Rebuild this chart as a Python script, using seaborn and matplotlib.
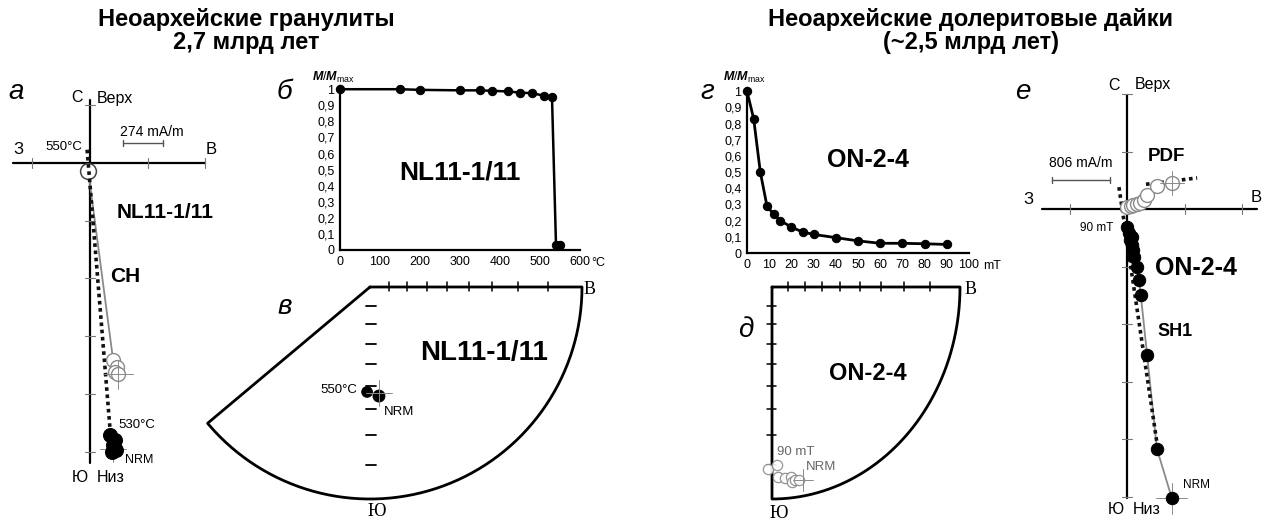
import numpy as np
import matplotlib
matplotlib.use("Agg")
import matplotlib.pyplot as plt
import seaborn as sns

W, H = 1272, 526

# ---------------- data ----------------
# а: Zijderveld diagram NL11-1/11 (units = one tick step)
a_hor_x = [0.35, 0.43, 0.40, 0.45, 0.38]
a_hor_y = [-4.71, -4.80, -4.89, -4.97, -5.01]
a_ver_x = [-0.03, 0.40, 0.47, 0.43, 0.49]
a_ver_y = [-0.14, -3.41, -3.54, -3.62, -3.66]
a_fit_x = [-0.05, 0.38]
a_fit_y = [0.23, -5.01]

# б: thermal demagnetization NL11-1/11
b_temp = [0, 150, 200, 300, 350, 380, 420, 450, 480, 510, 530, 540, 550]
b_mag = [1.0, 1.0, 0.996, 0.993, 0.993, 0.99, 0.986, 0.979, 0.975, 0.96, 0.95, 0.03, 0.03]
b_ticks = [0, 100, 200, 300, 400, 500, 600]

# в: stereonet NL11-1/11 (declination, inclination)
v_dec = [181.6, 175.3]
v_inc = [37.3, 35.4]

# г: AF demagnetization ON-2-4
g_field = [0, 3, 6, 9, 12, 15, 20, 25, 30, 40, 50, 60, 70, 80, 90]
g_mag = [1.0, 0.83, 0.50, 0.29, 0.24, 0.20, 0.16, 0.13, 0.115, 0.095, 0.075, 0.06, 0.06, 0.057, 0.053]
g_ticks = [0, 10, 20, 30, 40, 50, 60, 70, 80, 90, 100]

y_ticks = [0, 0.1, 0.2, 0.3, 0.4, 0.5, 0.6, 0.7, 0.8, 0.9, 1.0]
y_labels = ["0", "0,1", "0,2", "0,3", "0,4", "0,5", "0,6", "0,7", "0,8", "0,9", "1"]

# д: stereonet ON-2-4 (upper hemisphere)
d_dec = [181.4, 178.2, 178.0, 175.6, 173.6, 173.4, 172.4, 171.0]
d_inc = [-8.7, -10.0, -6.2, -5.8, -5.9, -4.4, -4.9, -4.7]

# е: Zijderveld diagram ON-2-4
e_hor_x = [0.0, 0.03, 0.09, 0.05, 0.09, 0.10, 0.12, 0.17, 0.21, 0.24, 0.35, 0.52, 0.78]
e_hor_y = [-0.31, -0.42, -0.49, -0.54, -0.63, -0.71, -0.83, -1.01, -1.23, -1.50, -2.54, -4.17, -5.03]
e_ver_x = [0.0, 0.07, 0.10, 0.17, 0.23, 0.30, 0.35, 0.52, 0.78]
e_ver_y = [0.03, 0.05, 0.07, 0.09, 0.10, 0.16, 0.24, 0.40, 0.45]
e_fit_x = [-0.14, 0.56]
e_fit_y = [0.38, -4.33]
e_pdf_x = [0.33, 1.22]
e_pdf_y = [0.43, 0.54]

stereo_incs = [80, 70, 60, 50, 40, 30, 20, 10]

title_left = 'Неоархейские гранулиты\n2,7 млрд лет'
title_right = 'Неоархейские долеритовые дайки\n(~2,5 млрд лет)'

# ---------------- style ----------------
sns.set_theme(style="white")
plt.rcParams['font.family'] = ['Liberation Sans', 'DejaVu Sans']
plt.rcParams['text.color'] = 'black'
plt.rcParams['xtick.color'] = 'black'
plt.rcParams['ytick.color'] = 'black'
plt.rcParams['mathtext.fontset'] = 'custom'
plt.rcParams['mathtext.it'] = 'Liberation Sans:italic:bold'
plt.rcParams['mathtext.rm'] = 'Liberation Sans'

GRAY = '#8a8a8a'
fig = plt.figure(figsize=(W / 100, H / 100), dpi=100)


def px_axes(x0, y0, x1, y1):
    return fig.add_axes([x0 / W, 1 - y1 / H, (x1 - x0) / W, (y1 - y0) / H])


def unit_axes(box, origin, sx, sy):
    x0, y0, x1, y1 = box
    ox, oy = origin
    ax = px_axes(*box)
    ax.set_xlim((x0 - ox) / sx, (x1 - ox) / sx)
    ax.set_ylim((oy - y1) / sy, (oy - y0) / sy)
    ax.axis('off')
    return ax


def ftext(x, y, s, **kw):
    kw.setdefault('va', 'center')
    fig.text(x / W, 1 - y / H, s, **kw)


def zijderveld_axes(ax, xr, yr, xt, yt, unit):
    ax.plot(xr, [0, 0], color='black', lw=1.6, zorder=1)
    ax.plot([0, 0], yr, color='black', lw=1.6, zorder=1)
    tl = 5 / unit
    for t in xt:
        ax.plot([t, t], [-tl, tl], color='#777777', lw=0.8, zorder=1)
    for t in yt:
        ax.plot([-tl, tl], [t, t], color='#777777', lw=0.8, zorder=1)


def cross(ax, x, y, arm):
    ax.plot([x - arm, x + arm], [y, y], color=GRAY, lw=0.7, zorder=5)
    ax.plot([x, x], [y - arm, y + arm], color=GRAY, lw=0.7, zorder=5)


def wulff(dec, inc):
    dec = np.radians(np.asarray(dec, float))
    r = np.tan(np.radians(90 - np.abs(np.asarray(inc, float))) / 2)
    return r * np.sin(dec), r * np.cos(dec)


def decay_axes(ax, xmax, xt):
    sns.despine(ax=ax)
    for s in ['left', 'bottom']:
        ax.spines[s].set_linewidth(1.6)
        ax.spines[s].set_color('black')
    ax.set_xlim(0, xmax)
    ax.set_ylim(0, 1.02)
    ax.set_yticks(y_ticks)
    ax.set_yticklabels(y_labels)
    ax.set_xticks(xt)
    ax.set_xticklabels([str(t) for t in xt])
    ax.tick_params(axis='both', direction='out', length=3, width=1.1, colors='black',
                   labelsize=9, pad=1)
    ax.set_xlabel('')
    ax.set_ylabel('')
    ax.set_facecolor('none')


# ---------------- а ----------------
ua = 57.7
ax = unit_axes((0, 80, 250, 520), (90, 163), ua, ua)
zijderveld_axes(ax, [-1.33, 1.99], [1.09, -5.2], [-1, 1, 2], [1, -1, -2, -3, -4, -5], ua)
sns.lineplot(x=a_ver_x, y=a_ver_y, sort=False, estimator=None, color=GRAY, lw=1.3, ax=ax, zorder=2)
ax.plot(a_fit_x, a_fit_y, color='#111111', lw=2.6, linestyle=(0, (1, 1)), zorder=3)
sns.scatterplot(x=a_ver_x[:1], y=a_ver_y[:1], s=130, color='white', edgecolor='#444444', linewidth=1.1,
                ax=ax, zorder=2.5)
sns.scatterplot(x=a_ver_x[1:], y=a_ver_y[1:], s=100, color='white', edgecolor=GRAY, linewidth=1,
                ax=ax, zorder=4)
sns.scatterplot(x=a_hor_x, y=a_hor_y, s=100, color='black', edgecolor='black', ax=ax, zorder=6)
cross(ax, a_ver_x[-1], a_ver_y[-1], 0.25)
cross(ax, 0.40, -4.95, 0.23)
# scale bar
ax.plot([(123 - 90) / ua, (163 - 90) / ua], [(163 - 143) / ua] * 2, color='#555555', lw=1)
for xb in [123, 163]:
    ax.plot([(xb - 90) / ua] * 2, [(163 - 140) / ua, (163 - 146) / ua], color='#555555', lw=1)

ftext(8, 92, 'а', fontsize=20, style='italic')
ftext(77, 98, 'С', fontsize=11.5, ha='center')
ftext(97, 98, 'Верх', fontsize=11.5, ha='left')
ftext(18, 150, 'З', fontsize=12, ha='center')
ftext(211, 150, 'В', fontsize=12, ha='center')
ftext(82, 147, '550°C', fontsize=9.5, ha='right')
ftext(152, 132, '274 mA/m', fontsize=10, ha='center')
ftext(117, 213, 'NL11-1/11', fontsize=15, fontweight='bold', ha='left')
ftext(110, 277, 'CH', fontsize=15, fontweight='bold', ha='left')
ftext(118, 425, '530°C', fontsize=9.5, ha='left')
ftext(125, 460, 'NRM', fontsize=9, ha='left')
ftext(80, 478, 'Ю', fontsize=11.5, ha='center')
ftext(97, 478, 'Низ', fontsize=11.5, ha='left')

# ---------------- б ----------------
ax = px_axes(340, 86, 580, 250)
decay_axes(ax, 600, b_ticks)
sns.lineplot(x=b_temp, y=b_mag, color='black', lw=1.8, marker='o', markersize=6,
             markeredgecolor='black', estimator=None, ax=ax, clip_on=False)
ax.annotate('°C', (600, 0), xytext=(8, -5), textcoords='offset points', fontsize=9,
            ha='left', va='top', annotation_clip=False)
ftext(277, 92, 'б', fontsize=20, style='italic')
ftext(312, 77, r'$\it{M/M}_{\rm max}$', fontsize=9, ha='left')
ftext(460, 172, 'NL11-1/11', fontsize=19, fontweight='bold', ha='center')

# ---------------- в ----------------
R = 212
ax = unit_axes((195, 270, 620, 525), (370, 287), R, R)
th = np.radians(np.linspace(0, -140, 200))
ax.plot(np.r_[0, np.cos(th), 0], np.r_[0, np.sin(th), 0], color='black', lw=2)
rt = np.tan(np.radians(90 - np.array(stereo_incs)) / 2)
for r in rt:
    ax.plot([r, r], [-4 / R, 5 / R], color='black', lw=1.1)
    ax.plot([-4 / R, 6 / R], [-r, -r], color='black', lw=1.3)
vx, vy = wulff(v_dec, v_inc)
sns.scatterplot(x=vx, y=vy, s=[60, 75], color='black', edgecolor='black', ax=ax, zorder=4, legend=False)
cross(ax, vx[1], vy[1] + 3 / R, 13 / R)
ftext(277, 307, 'в', fontsize=20, style='italic')
ftext(357, 390, '550°C', fontsize=9.5, ha='right')
ftext(384, 412, 'NRM', fontsize=9.5, ha='left')
ftext(484, 353, 'NL11-1/11', fontsize=20, fontweight='bold', ha='center')
ftext(584, 290, 'В', fontsize=13, family='Liberation Serif', ha='left')
ftext(377, 511, 'Ю', fontsize=13, family='Liberation Serif', ha='center')

# ---------------- г ----------------
ax = px_axes(747, 88, 969, 253)
decay_axes(ax, 100, g_ticks)
sns.lineplot(x=g_field, y=g_mag, color='black', lw=2, marker='o', markersize=6,
             markeredgecolor='black', estimator=None, ax=ax, clip_on=False)
ax.annotate('mT', (100, 0), xytext=(10, -5), textcoords='offset points', fontsize=9,
            ha='left', va='top', annotation_clip=False)
ftext(700, 92, 'г', fontsize=20, style='italic')
ftext(723, 77, r'$\it{M/M}_{\rm max}$', fontsize=9, ha='left')
ftext(868, 160, 'ON-2-4', fontsize=18, fontweight='bold', ha='center')

# ---------------- д ----------------
Rx, Ry = 188, 212
ax = unit_axes((752, 270, 1000, 525), (772, 287), Rx, Ry)
th = np.radians(np.linspace(0, -90, 200))
ax.plot(np.r_[0, np.cos(th), 0], np.r_[0, np.sin(th), 0], color='black', lw=2)
for r in rt:
    ax.plot([r, r], [-4 / Ry, 5 / Ry], color='black', lw=1.1)
    ax.plot([-5 / Rx, 4 / Rx], [-r, -r], color='black', lw=1.1)
dx, dy = wulff(d_dec, d_inc)
sns.scatterplot(x=dx, y=dy, s=55, color='white', edgecolor=GRAY, linewidth=0.9, ax=ax, zorder=4, alpha=0.9)
cross(ax, dx[-1] + 4 / Rx, dy[-1], 10 / Rx)
ftext(738, 330, 'д', fontsize=20, style='italic')
ftext(868, 373, 'ON-2-4', fontsize=17, fontweight='bold', ha='center')
ftext(777, 452, '90 mT', fontsize=9.5, ha='left', color='#666666')
ftext(806, 467, 'NRM', fontsize=9.5, ha='left', color='#666666')
ftext(779, 513, 'Ю', fontsize=13, family='Liberation Serif', ha='center')
ftext(965, 290, 'В', fontsize=13, family='Liberation Serif', ha='left')

# ---------------- е ----------------
ue = 57.5
ax = unit_axes((1000, 80, 1272, 526), (1127, 209), ue, ue)
zijderveld_axes(ax, [-1.48, 2.26], [1.98, -5.03], [-1, 1, 2], [2, 1, -1, -2, -3, -4, -5], ue)
sns.lineplot(x=e_hor_x, y=e_hor_y, sort=False, estimator=None, color=GRAY, lw=1.3, ax=ax, zorder=2)
sns.lineplot(x=e_ver_x, y=e_ver_y, sort=False, estimator=None, color=GRAY, lw=1.0, ax=ax, zorder=2)
ax.plot(e_fit_x, e_fit_y, color='#111111', lw=2.6, linestyle=(0, (1, 1)), zorder=3)
ax.plot(e_pdf_x, e_pdf_y, color='#111111', lw=2.6, linestyle=(0, (1, 1)), zorder=3)
sns.scatterplot(x=e_ver_x, y=e_ver_y, s=100, color='white', edgecolor=GRAY, linewidth=1, ax=ax, zorder=4)
sns.scatterplot(x=e_hor_x, y=e_hor_y, s=80, color='black', edgecolor='black', ax=ax, zorder=6)
cross(ax, e_ver_x[-1], e_ver_y[-1], 0.21)
cross(ax, e_hor_x[-1], e_hor_y[-1], 0.27)
ax.plot([(1052 - 1127) / ue, (1110 - 1127) / ue], [(209 - 180) / ue] * 2, color='#555555', lw=1)
for xb in [1052, 1110]:
    ax.plot([(xb - 1127) / ue] * 2, [(209 - 177) / ue, (209 - 183) / ue], color='#555555', lw=1)

ftext(1015, 92, 'е', fontsize=20, style='italic')
ftext(1114, 85, 'С', fontsize=11.5, ha='center')
ftext(1135, 85, 'Верх', fontsize=11.5, ha='left')
ftext(1028, 200, 'З', fontsize=12, ha='center')
ftext(1256, 198, 'В', fontsize=12, ha='center')
ftext(1081, 163, '806 mA/m', fontsize=10, ha='center')
ftext(1148, 157, 'PDF', fontsize=13.5, fontweight='bold', ha='left')
ftext(1155, 268, 'ON-2-4', fontsize=18, fontweight='bold', ha='left')
ftext(1157, 332, 'SH1', fontsize=13, fontweight='bold', ha='left')
ftext(1113, 228, '90 mT', fontsize=8.5, ha='right')
ftext(1183, 485, 'NRM', fontsize=8.5, ha='left')
ftext(1116, 509, 'Ю', fontsize=11.5, ha='center')
ftext(1133, 509, 'Низ', fontsize=11.5, ha='left')

# ---------------- titles ----------------
ftext(246, 31, title_left, fontsize=17, fontweight='bold', ha='center', multialignment='center',
      linespacing=0.95)
ftext(971, 31, title_right, fontsize=17, fontweight='bold', ha='center', multialignment='center',
      linespacing=0.95)

fig.savefig('out.png', dpi=100)
